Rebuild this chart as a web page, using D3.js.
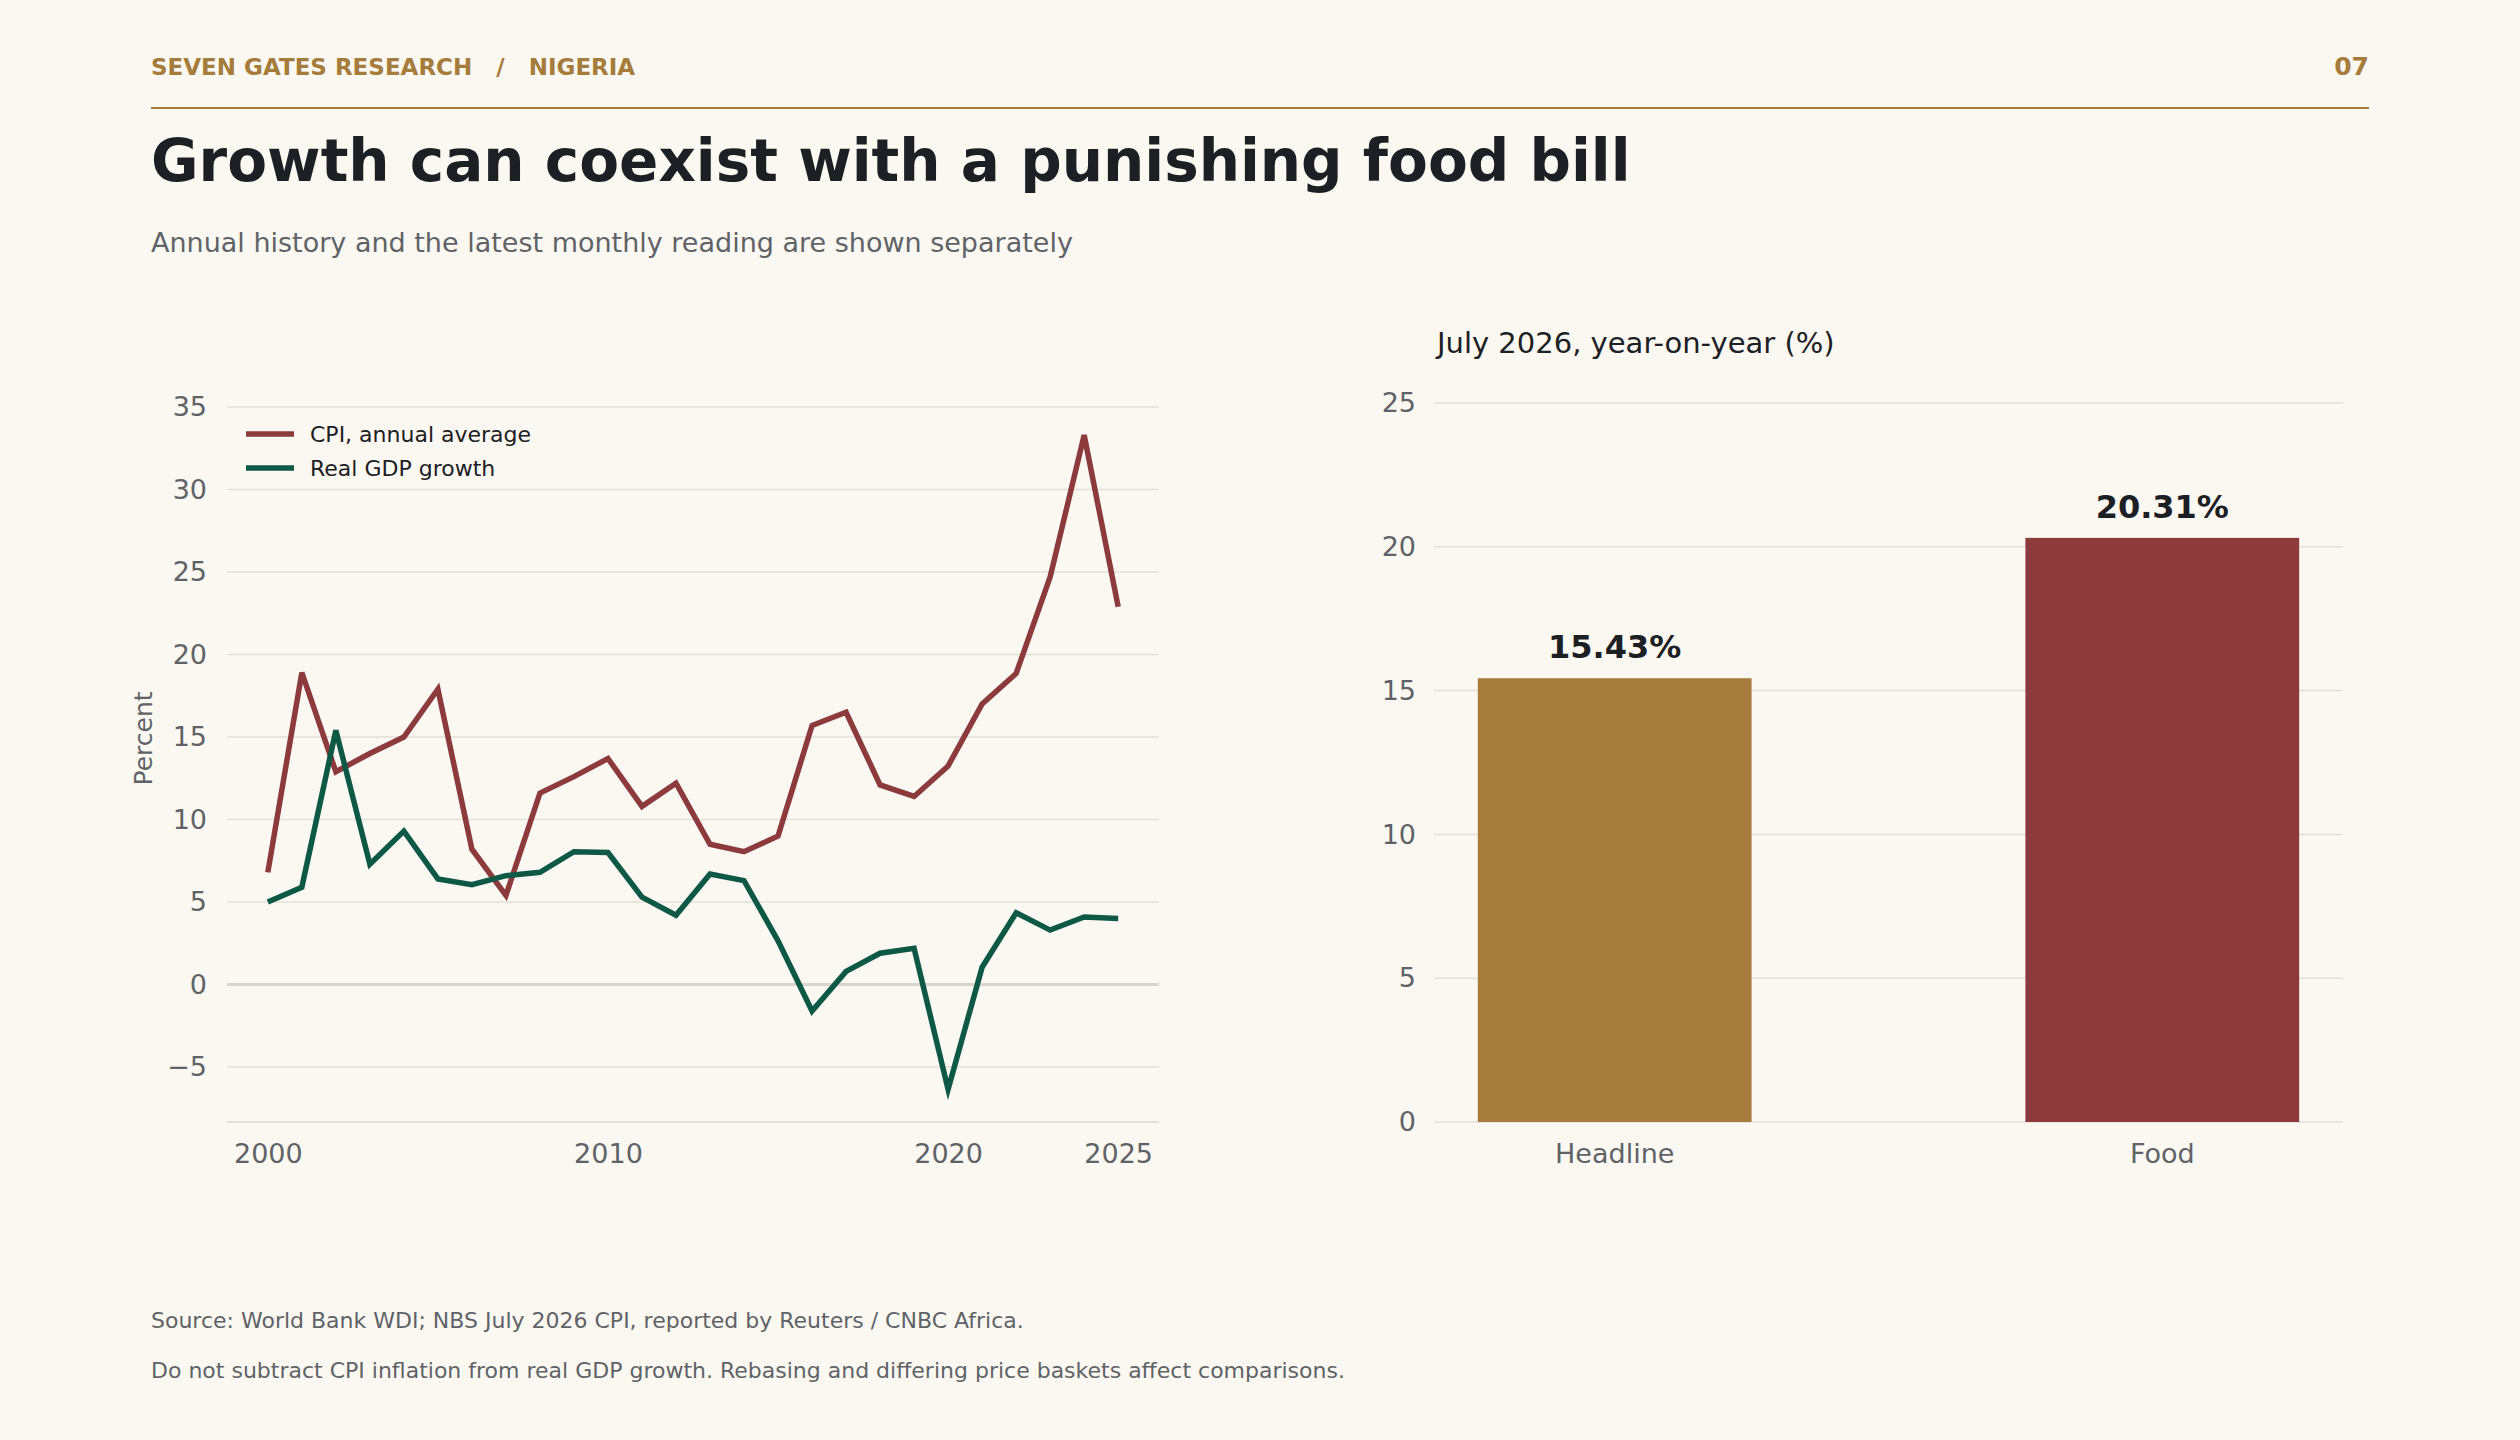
<!DOCTYPE html>
<html>
<head>
<meta charset="utf-8">
<script src="https://cdn.jsdelivr.net/npm/d3@7"></script>
<style>
  body { margin: 0; background: #fbf8f1; }
  text { font-family: "DejaVu Sans", sans-serif; }
</style>
</head>
<body>
<div id="chart"></div>
<script>
const years = d3.range(2000, 2026);
const cpi = [6.8, 18.9, 12.9, 14.0, 15.0, 17.9, 8.2, 5.4, 11.6, 12.6, 13.7, 10.8, 12.2,
             8.5, 8.05, 9.0, 15.7, 16.5, 12.1, 11.4, 13.25, 17.0, 18.85, 24.7, 33.3, 22.9];
const gdp = [5.0, 5.9, 15.4, 7.3, 9.3, 6.4, 6.05, 6.6, 6.8, 8.05, 8.0, 5.3, 4.2,
             6.7, 6.3, 2.65, -1.6, 0.8, 1.9, 2.2, -6.35, 1.05, 4.35, 3.3, 4.1, 4.0];
const barCats = ["Headline", "Food"];
const barVals = [15.43, 20.31];
const yearTicks = [2000, 2010, 2020, 2025];
const lineTicks = [-5, 0, 5, 10, 15, 20, 25, 30, 35];
const barTicks = [0, 5, 10, 15, 20, 25];

const W = 2520, H = 1440;
const gold = "#a57c3b", maroon = "#8c3a3c", green = "#0e5846";
const grid = "#e3e0d8", tickCol = "#5f6368";

const svg = d3.select("#chart").append("svg")
  .attr("width", W).attr("height", H);
svg.append("rect").attr("width", W).attr("height", H).attr("fill", "#fbf8f1");

// header
svg.append("text").attr("x", 151).attr("y", 75)
  .attr("fill", gold).style("font-size", "23px").style("font-weight", "bold")
  .attr("xml:space", "preserve")
  .text("SEVEN GATES RESEARCH   /   NIGERIA");
svg.append("text").attr("x", 2369).attr("y", 75).attr("text-anchor", "end")
  .attr("fill", gold).style("font-size", "25px").style("font-weight", "bold").text("07");
svg.append("line").attr("x1", 151).attr("x2", 2369).attr("y1", 108).attr("y2", 108)
  .attr("stroke", gold).attr("stroke-width", 2);
svg.append("text").attr("x", 151).attr("y", 181)
  .attr("fill", "#1c2024").style("font-size", "58px").style("font-weight", "bold")
  .text("Growth can coexist with a punishing food bill");
svg.append("text").attr("x", 151).attr("y", 252)
  .attr("fill", tickCol).style("font-size", "27px")
  .text("Annual history and the latest monthly reading are shown separately");

// left line chart
const L = { left: 227, right: 1159, top: 395, bottom: 1122 };
const x = d3.scaleLinear().domain([1998.8, 2026.2]).range([L.left, L.right]);
const y = d3.scaleLinear().domain([-8.33, 35.73]).range([L.bottom, L.top]);

const lg = svg.append("g");
lg.selectAll(".grid").data(lineTicks).enter().append("line")
  .attr("x1", L.left).attr("x2", L.right)
  .attr("y1", d => y(d)).attr("y2", d => y(d))
  .attr("stroke", d => d === 0 ? "#d9d5cc" : grid)
  .attr("stroke-width", d => d === 0 ? 3 : 1.5);
lg.append("line").attr("x1", L.left).attr("x2", L.right)
  .attr("y1", L.bottom).attr("y2", L.bottom).attr("stroke", grid).attr("stroke-width", 2);

const yAx = lg.append("g").attr("transform", `translate(${L.left},0)`)
  .call(d3.axisLeft(y).tickValues(lineTicks).tickSize(0).tickPadding(20).tickFormat(d3.format("")));
const xAx = lg.append("g").attr("transform", `translate(0,${L.bottom})`)
  .call(d3.axisBottom(x).tickValues(yearTicks).tickSize(0).tickPadding(22).tickFormat(d3.format("d")));
[yAx, xAx].forEach(a => {
  a.select(".domain").remove();
  a.selectAll("text").attr("fill", tickCol).style("font-size", "27px").style("font-family", "DejaVu Sans");
});

lg.append("text").attr("transform", "rotate(-90)")
  .attr("x", -(L.top + L.bottom) / 2 + 20).attr("y", 152).attr("text-anchor", "middle")
  .attr("fill", tickCol).style("font-size", "25px").text("Percent");

const line = d3.line().x((d, i) => x(years[i])).y(d => y(d));
[[cpi, maroon], [gdp, green]].forEach(([s, c]) => {
  lg.append("path").datum(s).attr("d", line)
    .attr("fill", "none").attr("stroke", c).attr("stroke-width", 5.5)
    .attr("stroke-linejoin", "miter");
});

const legend = [["CPI, annual average", maroon], ["Real GDP growth", green]];
legend.forEach(([t, c], i) => {
  const yy = 434 + i * 34;
  lg.append("line").attr("x1", 246).attr("x2", 294).attr("y1", yy).attr("y2", yy)
    .attr("stroke", c).attr("stroke-width", 5.5);
  lg.append("text").attr("x", 310).attr("y", yy + 8)
    .attr("fill", "#1c2024").style("font-size", "22px").text(t);
});

// right bar chart
const R = { left: 1434, right: 2343, top: 403, bottom: 1122 };
const xb = d3.scaleBand().domain(barCats).range([R.left, R.right])
  .paddingInner(0.5).paddingOuter(0.08);
const yb = d3.scaleLinear().domain([0, 25]).range([R.bottom, R.top]);
const barColor = d3.scaleOrdinal().domain(barCats).range([gold, maroon]);

const rg = svg.append("g");
rg.append("text").attr("x", 1437).attr("y", 353)
  .attr("fill", "#1c2024").style("font-size", "29px").text("July 2026, year-on-year (%)");
rg.selectAll(".grid").data(barTicks).enter().append("line")
  .attr("x1", R.left).attr("x2", R.right)
  .attr("y1", d => yb(d)).attr("y2", d => yb(d))
  .attr("stroke", grid).attr("stroke-width", 1.5);

rg.selectAll(".bar").data(barVals).enter().append("rect")
  .attr("x", (d, i) => xb(barCats[i])).attr("width", xb.bandwidth())
  .attr("y", d => yb(d)).attr("height", d => yb(0) - yb(d))
  .attr("fill", (d, i) => barColor(barCats[i]));
rg.selectAll(".lbl").data(barVals).enter().append("text")
  .attr("x", (d, i) => xb(barCats[i]) + xb.bandwidth() / 2)
  .attr("y", d => yb(d) - 20).attr("text-anchor", "middle")
  .attr("fill", "#1c2024").style("font-size", "32px").style("font-weight", "bold")
  .text(d => d.toFixed(2) + "%");

const ybAx = rg.append("g").attr("transform", `translate(${R.left},0)`)
  .call(d3.axisLeft(yb).tickValues(barTicks).tickSize(0).tickPadding(18));
const xbAx = rg.append("g").attr("transform", `translate(0,${R.bottom})`)
  .call(d3.axisBottom(xb).tickSize(0).tickPadding(22));
[ybAx, xbAx].forEach(a => {
  a.select(".domain").remove();
  a.selectAll("text").attr("fill", tickCol).style("font-size", "27px").style("font-family", "DejaVu Sans");
});

// footer
svg.append("text").attr("x", 151).attr("y", 1328)
  .attr("fill", tickCol).style("font-size", "22px")
  .text("Source: World Bank WDI; NBS July 2026 CPI, reported by Reuters / CNBC Africa.");
svg.append("text").attr("x", 151).attr("y", 1378)
  .attr("fill", tickCol).style("font-size", "22px")
  .text("Do not subtract CPI inflation from real GDP growth. Rebasing and differing price baskets affect comparisons.");
</script>
</body>
</html>
